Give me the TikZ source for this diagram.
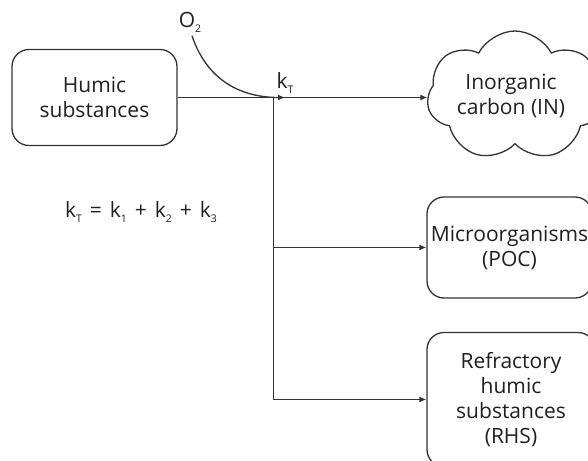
\documentclass[tikz,border=0pt]{standalone}
\usepackage{fontspec}
\setmainfont{Open Sans}
\usetikzlibrary{shapes.symbols,arrows.meta}
\newcommand{\sbs}[1]{\raisebox{-0.45ex}{\fontsize{10.5}{10.5}\selectfont #1}}
\begin{document}
\begin{tikzpicture}[x=1pt,y=-1pt,
 txt/.style={font=\fontsize{21}{25}\selectfont, text=black!88, align=center},
 rbox/.style={txt, draw=black!80, line width=1.3pt, rounded corners=17pt, inner sep=0pt},
 cloudbox/.style={txt, draw=black!80, line width=1.3pt, cloud, cloud puffs=7, cloud puff arc=125, cloud ignores aspect, inner sep=0pt},
 conn/.style={draw=black!80, line width=1.3pt},
 flow/.style={conn, -{Latex[length=7pt,width=6pt]}}]
\clip (0,0) rectangle (588,460);
\fill[white] (0,0) rectangle (588,460);
\node[rbox, minimum width=165, minimum height=96] (hs) at (94.5,97.5) {Humic\\substances};
\node[cloudbox, minimum width=176, minimum height=130] (inorg) at (515,96) {\hspace*{-8pt}Inorganic\\\hspace*{-8pt}carbon (IN)};
\node[rbox, minimum width=165, minimum height=101] (mo) at (509.5,247.5) {Microorganisms\\(POC)};
\node[rbox, minimum width=168, minimum height=134] (rhs) at (511,399.5) {Refractory\\humic\\substances\\(RHS)};
\node[txt] (o2) at (190,22) {O\sbs{2}};
\node[txt] (kt) at (285,83) {k\sbs{T}};
\node[txt] (eq) at (141,212) {k\sbs{T}\hspace{8pt}=\hspace{8pt}k\sbs{1}\hspace{8pt}+\hspace{8pt}k\sbs{2}\hspace{8pt}+\hspace{8pt}k\sbs{3}};
\coordinate (j1) at (273.5,97.5);
\coordinate (j2) at (273.5,247.5);
\coordinate (j3) at (273.5,399.5);
\coordinate (tipo) at (285,97.5);
\draw[conn] (hs.east) -- (j1);
\draw[conn] (j1) -- (j3);
\draw[flow] (j1) -- (j1 -| inorg.west);
\draw[flow] (j2) -- (mo);
\draw[flow] (j3) -- (rhs);
\draw[flow] ([xshift=2pt]o2.south) .. controls (205,75) and (235,97.5) .. (tipo);
\end{tikzpicture}
\end{document}
